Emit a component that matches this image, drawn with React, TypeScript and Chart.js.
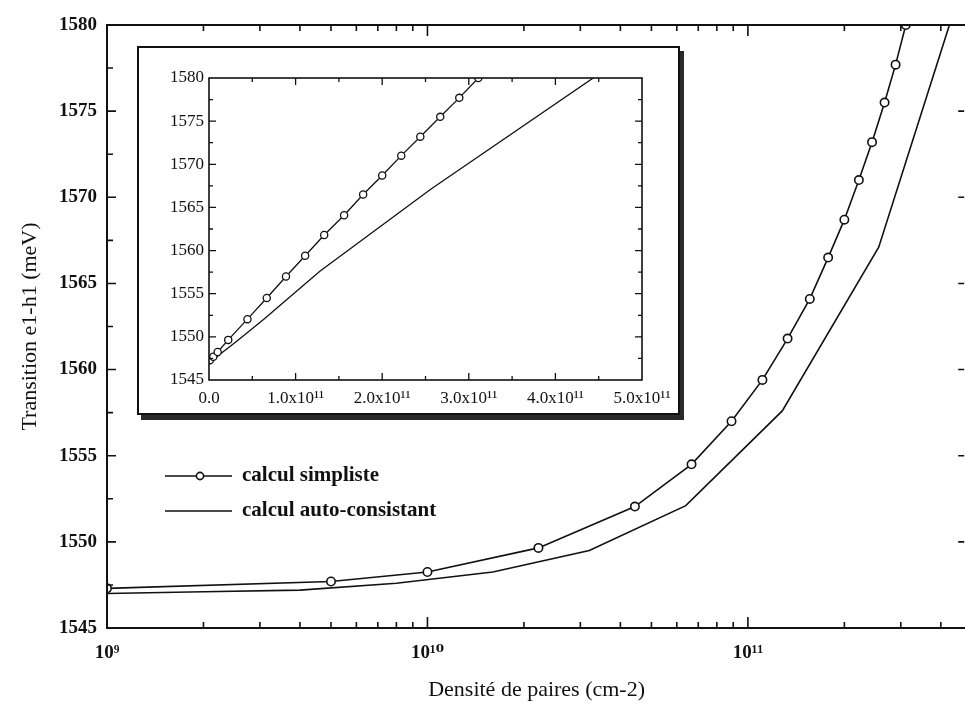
import React, { useEffect, useRef } from 'react';
import { Chart, registerables } from 'chart.js';

Chart.register(...registerables);

// ---- data ----
const simpleDensity = [1e9, 5e9, 1e10, 2.22e10, 4.44e10, 6.67e10, 8.89e10, 1.11e11, 1.33e11, 1.56e11, 1.78e11, 2.0e11, 2.22e11, 2.44e11, 2.67e11, 2.89e11, 3.11e11];
const simpleEnergy = [1547.3, 1547.7, 1548.25, 1549.65, 1552.05, 1554.5, 1557.0, 1559.4, 1561.8, 1564.1, 1566.5, 1568.7, 1571.0, 1573.2, 1575.5, 1577.7, 1580.0];
const autoDensity = [1e9, 2e9, 4e9, 8e9, 1.6e10, 3.2e10, 6.4e10, 1.28e11, 2.56e11, 5.12e11];
const autoEnergy = [1547.0, 1547.1, 1547.2, 1547.6, 1548.25, 1549.5, 1552.1, 1557.6, 1567.1, 1584.7];

const seriesNames = ['calcul simpliste', 'calcul auto-consistant'];
const yMin = 1545;
const yMax = 1580;
const mainXMin = 1e9;
const mainXMax = 4.8e11;
const insetXMax = 5e11;

const SERIF = '"Liberation Serif", "DejaVu Serif", "Times New Roman", serif';
const INK = '#111';
const SUP = ['⁰', '¹', '²', '³', '⁴', '⁵', '⁶', '⁷', '⁸', '⁹'];
const sup = (n: number) => String(n).split('').map((d) => SUP[Number(d)]).join('');

const pts = (xs: number[], ys: number[]) => xs.map((x, i) => ({ x, y: ys[i] }));

function makeDatasets(radius: number, width: number) {
  return [
    {
      label: seriesNames[0],
      data: pts(simpleDensity, simpleEnergy),
      borderColor: INK,
      borderWidth: width,
      pointRadius: radius,
      pointBackgroundColor: '#fff',
      pointBorderColor: INK,
      pointBorderWidth: width,
      tension: 0,
    },
    {
      label: seriesNames[1],
      data: pts(autoDensity, autoEnergy),
      borderColor: INK,
      borderWidth: width,
      pointRadius: 0,
      tension: 0,
    },
  ];
}

const zeroPad = (s: any) => {
  s.paddingLeft = 0;
  s.paddingRight = 0;
  s.paddingTop = 0;
  s.paddingBottom = 0;
};

const mainFrame = {
  id: 'mainFrame',
  afterDatasetsDraw(chart: any) {
    const { ctx, chartArea: a, scales } = chart;
    const x = scales.x;
    const y = scales.y;
    ctx.save();
    ctx.strokeStyle = INK;
    ctx.lineWidth = 2;
    ctx.beginPath();
    ctx.moveTo(a.right, a.top);
    ctx.lineTo(a.left, a.top);
    ctx.lineTo(a.left, a.bottom);
    ctx.lineTo(a.right, a.bottom);
    ctx.stroke();

    ctx.lineWidth = 1.6;
    ctx.beginPath();
    for (let i = 1; i < 14; i++) {
      const v = yMin + i * 2.5;
      const py = y.getPixelForValue(v);
      const major = i % 2 === 0;
      ctx.moveTo(a.left, py);
      ctx.lineTo(a.left + (major ? 9 : 6), py);
      if (major) {
        ctx.moveTo(a.right - 2, py);
        ctx.lineTo(a.right - 8, py);
      }
    }
    for (let e = 9; e <= 11; e++) {
      for (let m = 1; m <= 9; m++) {
        const v = m * Math.pow(10, e);
        if (v > x.max) break;
        if (v === x.min) continue;
        const px = x.getPixelForValue(v);
        const len = m === 1 ? 11 : 6;
        ctx.moveTo(px, a.bottom);
        ctx.lineTo(px, a.bottom - len);
        ctx.moveTo(px, a.top);
        ctx.lineTo(px, a.top + len);
      }
    }
    ctx.stroke();

    // legend
    ctx.lineWidth = 1.6;
    ctx.beginPath();
    ctx.moveTo(165, 476);
    ctx.lineTo(196, 476);
    ctx.moveTo(204, 476);
    ctx.lineTo(232, 476);
    ctx.moveTo(165, 511);
    ctx.lineTo(232, 511);
    ctx.stroke();
    ctx.beginPath();
    ctx.arc(200, 476, 3.6, 0, Math.PI * 2);
    ctx.fillStyle = '#fff';
    ctx.fill();
    ctx.stroke();
    ctx.fillStyle = INK;
    ctx.font = `bold 21px ${SERIF}`;
    ctx.textBaseline = 'middle';
    ctx.textAlign = 'left';
    ctx.fillText(seriesNames[0], 242, 476);
    ctx.fillText(seriesNames[1], 242, 511);
    ctx.restore();
  },
};

const insetFrame = {
  id: 'insetFrame',
  afterDatasetsDraw(chart: any) {
    const { ctx, chartArea: a, scales } = chart;
    const x = scales.x;
    const y = scales.y;
    ctx.save();
    ctx.strokeStyle = INK;
    ctx.lineWidth = 1.6;
    ctx.strokeRect(a.left, a.top, a.right - a.left, a.bottom - a.top);
    ctx.lineWidth = 1.3;
    ctx.beginPath();
    for (let i = 1; i < 14; i++) {
      const py = y.getPixelForValue(yMin + i * 2.5);
      const len = i % 2 === 0 ? 7 : 4;
      ctx.moveTo(a.left, py);
      ctx.lineTo(a.left + len, py);
      ctx.moveTo(a.right, py);
      ctx.lineTo(a.right - len, py);
    }
    for (let i = 1; i < 10; i++) {
      const px = x.getPixelForValue(i * 0.5e11);
      const len = i % 2 === 0 ? 7 : 4;
      ctx.moveTo(px, a.bottom);
      ctx.lineTo(px, a.bottom - len);
      ctx.moveTo(px, a.top);
      ctx.lineTo(px, a.top + len);
    }
    ctx.stroke();
    ctx.restore();
  },
};

export default function App() {
  const mainRef = useRef<HTMLCanvasElement>(null);
  const insetRef = useRef<HTMLCanvasElement>(null);

  useEffect(() => {
    document.body.style.margin = '0';
    document.body.style.overflow = 'hidden';

    const main = new Chart(mainRef.current as HTMLCanvasElement, {
      type: 'line',
      data: { datasets: makeDatasets(4.2, 1.6) as any },
      plugins: [mainFrame],
      options: {
        responsive: false,
        animation: false,
        events: [],
        layout: { padding: { top: 25, right: 0, left: 0, bottom: 0 } },
        plugins: { legend: { display: false }, tooltip: { enabled: false } },
        scales: {
          x: {
            type: 'logarithmic',
            min: mainXMin,
            max: mainXMax,
            grid: { display: false, drawTicks: false },
            border: { display: false },
            ticks: {
              autoSkip: false,
              maxRotation: 0,
              minRotation: 0,
              padding: 14,
              color: INK,
              font: { family: SERIF, size: 19, weight: 'bold' },
              callback: (v: any) => {
                const l = Math.log10(Number(v));
                const r = Math.round(l);
                return Math.abs(l - r) < 1e-6 ? '10' + sup(r) : '';
              },
            },
            title: {
              display: true,
              text: 'Densité de paires (cm-2)',
              color: INK,
              font: { family: SERIF, size: 22 },
              padding: { top: 0, bottom: 7 },
            },
            afterFit: (s: any) => {
              s.height = 82;
              zeroPad(s);
            },
          } as any,
          y: {
            min: yMin,
            max: yMax,
            grid: { display: false, drawTicks: false },
            border: { display: false },
            ticks: {
              stepSize: 5,
              padding: 10,
              color: INK,
              font: { family: SERIF, size: 19, weight: 'bold' },
              callback: (v: any) => String(v),
            },
            title: {
              display: true,
              text: 'Transition e1-h1 (meV)',
              color: INK,
              font: { family: SERIF, size: 22 },
              padding: { top: 17, bottom: 0 },
            },
            afterFit: (s: any) => {
              s.width = 107;
              zeroPad(s);
            },
          } as any,
        },
      },
    });

    const inset = new Chart(insetRef.current as HTMLCanvasElement, {
      type: 'line',
      data: { datasets: makeDatasets(3.6, 1.3) as any },
      plugins: [insetFrame],
      options: {
        responsive: false,
        animation: false,
        events: [],
        layout: { padding: { top: 30, right: 36, left: 0, bottom: 0 } },
        plugins: { legend: { display: false }, tooltip: { enabled: false } },
        scales: {
          x: {
            type: 'linear',
            min: 0,
            max: insetXMax,
            grid: { display: false, drawTicks: false },
            border: { display: false },
            ticks: {
              stepSize: 1e11,
              autoSkip: false,
              maxRotation: 0,
              padding: 8,
              color: INK,
              font: { family: SERIF, size: 17 },
              callback: (v: any) => {
                const n = Number(v);
                return n === 0 ? '0.0' : (n / 1e11).toFixed(1) + 'x10¹¹';
              },
            },
            afterFit: (s: any) => {
              s.height = 33;
              zeroPad(s);
            },
          } as any,
          y: {
            min: yMin,
            max: yMax,
            grid: { display: false, drawTicks: false },
            border: { display: false },
            ticks: {
              stepSize: 5,
              padding: 5,
              color: INK,
              font: { family: SERIF, size: 17 },
              callback: (v: any) => String(v),
            },
            afterFit: (s: any) => {
              s.width = 70;
              zeroPad(s);
            },
          } as any,
        },
      },
    });

    return () => {
      main.destroy();
      inset.destroy();
    };
  }, []);

  return (
    <div style={{ position: 'relative', width: 965, height: 710, background: '#fff', overflow: 'hidden' }}>
      <canvas ref={mainRef} width={972} height={710} style={{ position: 'absolute', left: 0, top: 0 }} />
      <div
        style={{
          position: 'absolute',
          left: 137,
          top: 46,
          width: 543,
          height: 369,
          boxSizing: 'border-box',
          border: '2px solid #111',
          boxShadow: '4px 5px 0 #2a2a2a',
          background: '#fff',
        }}
      >
        <canvas ref={insetRef} width={539} height={365} style={{ display: 'block' }} />
      </div>
    </div>
  );
}
